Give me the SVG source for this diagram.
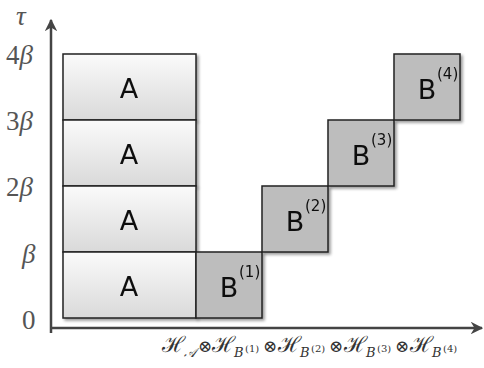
<svg xmlns="http://www.w3.org/2000/svg" width="484" height="368" viewBox="0 0 484 368">
<defs>
<linearGradient id="ga" x1="0" y1="0" x2="0" y2="1">
<stop offset="0" stop-color="#fafafa"/>
<stop offset="1" stop-color="#d9d9d9"/>
</linearGradient>
<filter id="sh" x="-10%" y="-10%" width="130%" height="130%">
<feGaussianBlur in="SourceAlpha" stdDeviation="1.5"/>
<feOffset dx="2" dy="2" result="o"/>
<feComponentTransfer><feFuncA type="linear" slope="0.4"/></feComponentTransfer>
<feMerge><feMergeNode/><feMergeNode in="SourceGraphic"/></feMerge>
</filter>
<marker id="arr" viewBox="0 0 10 10" refX="9" refY="5" markerWidth="5" markerHeight="5" orient="auto" markerUnits="strokeWidth">
<path d="M0,0 L10,5 L0,10 L3,5 z" fill="#444"/>
</marker>
<style>
.a{fill:url(#ga);stroke:#222;stroke-width:1.5}
.b{fill:#bdbdbd;stroke:#222;stroke-width:1.5}
.t{font-family:"DejaVu Sans",sans-serif;font-size:27px;fill:#111;text-anchor:middle}
.s{font-family:"DejaVu Sans",sans-serif;font-size:15px;fill:#111}
.l{font-family:"Liberation Serif","DejaVu Serif",serif;font-size:27px;fill:#555;font-style:italic}
.n{font-style:normal}
.ax{stroke:#444;stroke-width:2.5;fill:none}
.m{font-family:"DejaVu Serif","Liberation Serif",serif;fill:#333}
.h{font-size:22px}
.o{font-size:17px}
.hs{font-size:13px;font-style:italic}
.hp{font-size:10px}
</style>
</defs>
<g id="connectors">
<line class="ax" x1="51" y1="333" x2="51" y2="20" marker-end="url(#arr)"/>
<line class="ax" x1="50" y1="328" x2="482" y2="328" marker-end="url(#arr)"/>
</g>
<g id="labels">
<text class="l" x="16" y="25" font-size="30">τ</text>
<text class="l" x="6" y="64"><tspan class="n">4</tspan>β</text>
<text class="l" x="6" y="130"><tspan class="n">3</tspan>β</text>
<text class="l" x="6" y="196"><tspan class="n">2</tspan>β</text>
<text class="l" x="22" y="263">β</text>
<text class="l" x="22" y="329"><tspan class="n">0</tspan></text>
<text class="m" y="352"><tspan class="h" x="162" y="352">ℋ</tspan><tspan class="hs" x="184" y="357">𝒜</tspan><tspan class="o" x="198" y="352">⊗</tspan><tspan class="h" x="212" y="352">ℋ</tspan><tspan class="hs" x="234" y="357">B</tspan><tspan class="hp" x="245" y="352">(1)</tspan><tspan class="o" x="263" y="352">⊗</tspan><tspan class="h" x="278" y="352">ℋ</tspan><tspan class="hs" x="300" y="357">B</tspan><tspan class="hp" x="311" y="352">(2)</tspan><tspan class="o" x="329" y="352">⊗</tspan><tspan class="h" x="344" y="352">ℋ</tspan><tspan class="hs" x="366" y="357">B</tspan><tspan class="hp" x="377" y="352">(3)</tspan><tspan class="o" x="395" y="352">⊗</tspan><tspan class="h" x="410" y="352">ℋ</tspan><tspan class="hs" x="432" y="357">B</tspan><tspan class="hp" x="443" y="352">(4)</tspan></text>
</g>
<g id="A4" filter="url(#sh)"><rect class="a" x="63" y="54" width="133" height="66"/><text class="t" x="129" y="98">A</text></g>
<g id="A3" filter="url(#sh)"><rect class="a" x="63" y="120" width="133" height="66"/><text class="t" x="129" y="164">A</text></g>
<g id="A2" filter="url(#sh)"><rect class="a" x="63" y="186" width="133" height="66"/><text class="t" x="129" y="230">A</text></g>
<g id="A1" filter="url(#sh)"><rect class="a" x="63" y="252" width="133" height="66"/><text class="t" x="129" y="296">A</text></g>
<g id="B1" filter="url(#sh)"><rect class="b" x="196" y="252" width="66" height="66"/><text class="t" x="229" y="297">B</text><text class="s" x="239" y="277">(1)</text></g>
<g id="B2" filter="url(#sh)"><rect class="b" x="262" y="186" width="66" height="66"/><text class="t" x="295" y="231">B</text><text class="s" x="305" y="211">(2)</text></g>
<g id="B3" filter="url(#sh)"><rect class="b" x="328" y="120" width="66" height="66"/><text class="t" x="361" y="165">B</text><text class="s" x="371" y="145">(3)</text></g>
<g id="B4" filter="url(#sh)"><rect class="b" x="394" y="54" width="66" height="66"/><text class="t" x="427" y="99">B</text><text class="s" x="437" y="79">(4)</text></g>
</svg>
